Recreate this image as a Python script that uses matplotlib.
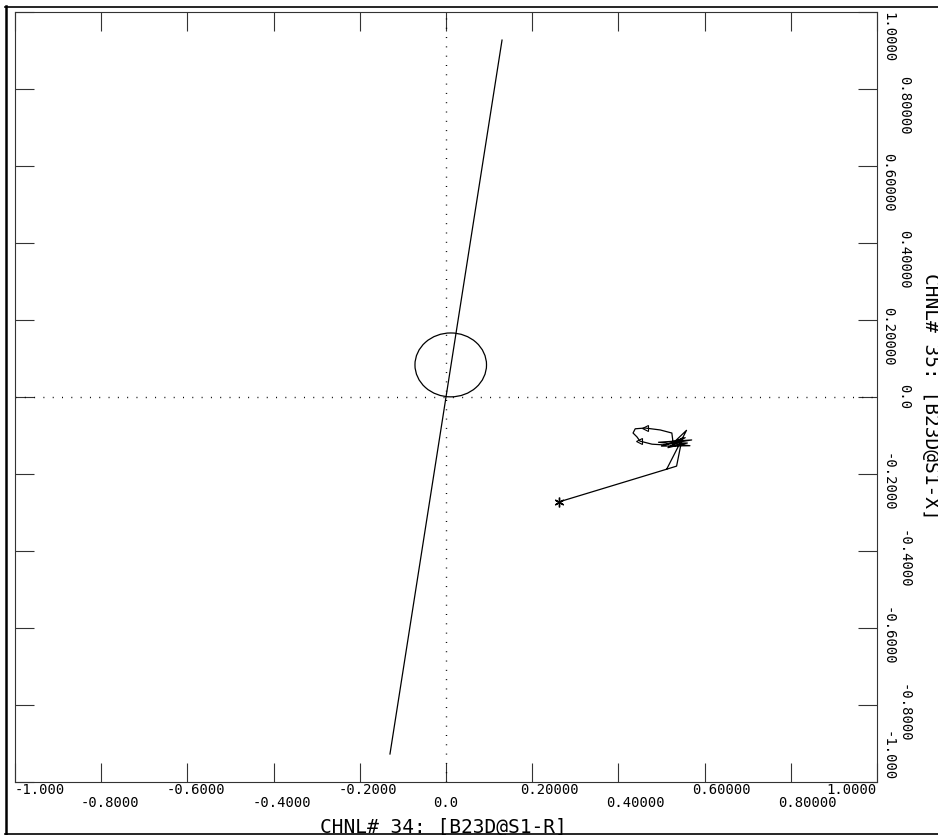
#!/usr/bin/env python3
# -*- coding: utf-8 -*-

import matplotlib
matplotlib.use('Agg')
from matplotlib import pyplot as plt
from matplotlib import transforms
from matplotlib.patches import Ellipse
from matplotlib.lines import Line2D

# axis ticks (same on both axes)
tick_values = [-1.0, -0.8, -0.6, -0.4, -0.2, 0.0, 0.2, 0.4, 0.6, 0.8, 1.0]
tick_labels = ["-1.000", "-0.8000", "-0.6000", "-0.4000", "-0.2000", "0.0",
			   "0.20000", "0.40000", "0.60000", "0.80000", "1.0000"]

x_title = "CHNL# 34: [B23D@S1-R]"
y_title = "CHNL# 35: [B23D@S1-X]"

# straight characteristic line
line_x = [-0.130, 0.130]
line_y = [-0.928, 0.927]

# circle
circle_center = (0.011, 0.083)
circle_radius = 0.083

# impedance trajectory
path_x = [0.262, 0.512, 0.558, 0.527, 0.570, 0.493, 0.566, 0.500, 0.555,
		  0.515, 0.560, 0.527, 0.524, 0.497, 0.462, 0.439, 0.434, 0.443,
		  0.450, 0.478, 0.508, 0.527, 0.548, 0.535, 0.512]
path_y = [-0.273, -0.188, -0.087, -0.120, -0.112, -0.118, -0.127, -0.128, -0.106,
		  -0.132, -0.120, -0.120, -0.094, -0.086, -0.081, -0.083, -0.094, -0.104,
		  -0.115, -0.123, -0.125, -0.120, -0.107, -0.180, -0.188]

start_x = [0.262]
start_y = [-0.273]

arrow_x = [0.462, 0.448]
arrow_y = [-0.081, -0.115]

mono = 'DejaVu Sans Mono'
label_size = 10
cw = 0.602 * label_size   # char width in points

fig = plt.figure(figsize=(9.38, 8.35), dpi=100)
ax = fig.add_axes([15 / 938, 53.3 / 835, 862 / 938, 769.7 / 835])

ax.set_xlim(-1, 1)
ax.set_ylim(-1, 1)
ax.set_xticks(tick_values)
ax.set_yticks(tick_values)
ax.tick_params(direction='in', length=13.7, width=0.8, top=True, right=True,
			   labelbottom=False, labelleft=False, color='#333333')
for sp in ax.spines.values():
	sp.set_linewidth(0.8)
	sp.set_color('#333333')

ax.axhline(0, color='black', lw=1, linestyle=(0, (0.7, 6)))
ax.axvline(0, color='black', lw=1, linestyle=(0, (0.7, 6)))

ax.plot(line_x, line_y, color='black', lw=0.9)
ax.add_patch(Ellipse(circle_center, 2 * circle_radius, 2 * circle_radius,
					 fill=False, ec='black', lw=0.9))
ax.plot(path_x, path_y, color='black', lw=0.9)
ax.plot(start_x, start_y, ls='none', marker=(6, 2, 0), ms=7, color='black', mew=1)
ax.plot(arrow_x, arrow_y, ls='none', marker='<', ms=4, mfc='none', mec='black', mew=0.8)

last = len(tick_values) - 1
for i, (v, lab) in enumerate(zip(tick_values, tick_labels)):
	row = i % 2
	dot = lab.index('.')
	# bottom labels, decimal point on the tick
	if i == 0:
		ha, dx = 'left', 0
	elif i == last:
		ha, dx = 'right', 0
	else:
		ha, dx = 'left', -(dot + 0.5) * cw
	tr = transforms.offset_copy(ax.get_xaxis_transform(), fig=fig, x=dx,
								y=-(6 + 9.2 * row), units='points')
	ax.text(v, 0, lab, transform=tr, ha=ha, va='center', fontsize=label_size,
			family=mono, clip_on=False)
	# right labels, rotated
	if i == 0:
		va, dy = 'bottom', 0
	elif i == last:
		va, dy = 'top', 0
	else:
		va, dy = 'top', (dot + 0.5) * cw
	tr = transforms.offset_copy(ax.get_yaxis_transform(), fig=fig,
								x=7.9 + 11.5 * row, y=dy, units='points')
	ax.text(1, v, lab, transform=tr, ha='center', va=va, rotation=270,
			fontsize=label_size, family=mono, clip_on=False)

fig.text(443 / 938, 1 - 827 / 835, x_title, ha='center', va='center',
		 fontsize=14, family=mono)
fig.text(930 / 938, 1 - 396 / 835, y_title, ha='center', va='center',
		 rotation=270, fontsize=14, family=mono)

# outer frame
fig.add_artist(Line2D([5.5 / 938, 5.5 / 938], [1 - 6 / 835, 1 - 834 / 835],
					  transform=fig.transFigure, color='black', lw=1.8))
fig.add_artist(Line2D([5 / 938, 1], [1 - 6.5 / 835, 1 - 6.5 / 835],
					  transform=fig.transFigure, color='black', lw=1.2))
fig.add_artist(Line2D([5 / 938, 1], [1 - 833.5 / 835, 1 - 833.5 / 835],
					  transform=fig.transFigure, color='black', lw=1.2))

fig.savefig("out.png", dpi=100)
